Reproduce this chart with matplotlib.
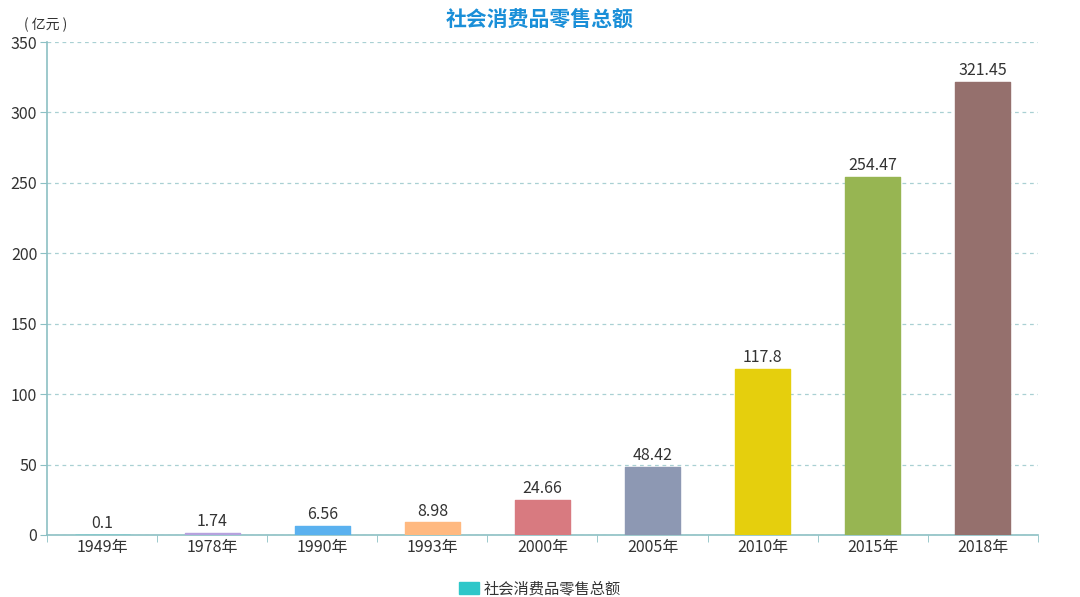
import matplotlib
matplotlib.use('Agg')
import matplotlib.pyplot as plt
import numpy as np
from matplotlib.patches import Patch

plt.rcParams['font.family'] = ['Noto Sans CJK SC', 'DejaVu Sans']

years = ['1949年', '1978年', '1990年', '1993年', '2000年', '2005年', '2010年', '2015年', '2018年']
values = [0.1, 1.74, 6.56, 8.98, 24.66, 48.42, 117.8, 254.47, 321.45]
labels = ['0.1', '1.74', '6.56', '8.98', '24.66', '48.42', '117.8', '254.47', '321.45']
colors = ['#2ec7c9', '#b6a2de', '#5ab1ef', '#ffb980', '#d87a80',
          '#8d98b3', '#e5cf0d', '#97b552', '#95706d']

axis_col = '#8cc0c4'
text_col = '#333333'

fig = plt.figure(figsize=(10.8, 5.97), dpi=100)
ax = fig.add_axes([0.0435, 0.1039, 0.9175, 0.8257])

x = np.arange(len(years))
bars = ax.bar(x, values, width=0.5, color=colors, edgecolor=colors,
              linewidth=1, joinstyle='round', zorder=3)
for xi, v, lab in zip(x, values, labels):
    ax.annotate(lab, (xi, v), xytext=(0, 2), textcoords='offset points',
                ha='center', va='bottom', fontsize=11.5, color=text_col)

ax.set_xlim(-0.5, len(years) - 0.5)
ax.set_ylim(0, 350)
ax.set_yticks(np.arange(0, 351, 50))
ax.set_xticks(x)
ax.set_xticklabels(years)
ax.set_xticks(np.arange(-0.5, len(years), 1), minor=True)
ax.tick_params(axis='x', which='major', length=0, labelsize=11.5, labelcolor=text_col, pad=3)
ax.tick_params(axis='x', which='minor', length=5, color=axis_col, direction='out')
ax.tick_params(axis='y', length=5, color=axis_col, labelsize=11.5, labelcolor=text_col, pad=2)

ax.grid(axis='y', linestyle=(0, (3, 3)), color='#a9d0d3', linewidth=0.9, zorder=0)
for side in ['top', 'right']:
    ax.spines[side].set_visible(False)
for side in ['left', 'bottom']:
    ax.spines[side].set_color(axis_col)
    ax.spines[side].set_linewidth(1.2)

ax.text(-0.023, 1.02, '( 亿元 )', transform=ax.transAxes, fontsize=10,
        color=text_col, ha='left', va='bottom')

fig.text(0.5, 0.985, '社会消费品零售总额', ha='center', va='top', fontsize=15,
         fontweight='bold', color='#1a8fd8')

handle = Patch(facecolor='#2ec7c9', edgecolor='#2ec7c9')
fig.legend([handle], ['社会消费品零售总额'], loc='lower center',
           bbox_to_anchor=(0.5, -0.024), frameon=False, fontsize=11,
           handlelength=1.3, handleheight=0.8, handletextpad=0.3,
           labelcolor=text_col)

fig.savefig('out.png', dpi=100)
